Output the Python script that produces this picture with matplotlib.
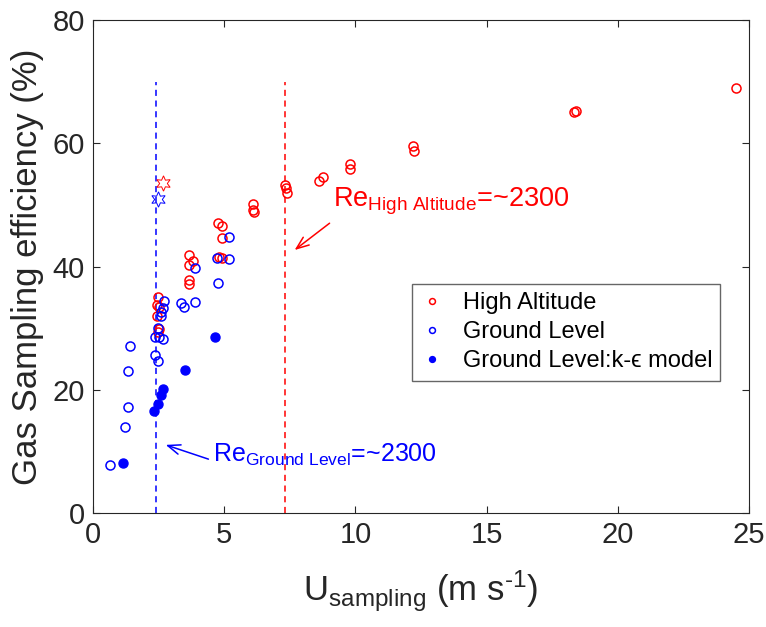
import numpy as np
import matplotlib
matplotlib.use("Agg")
import matplotlib.pyplot as plt

# === data ===
high_u = [24.5, 18.35, 18.4, 12.2, 12.25, 9.8, 9.8, 8.75, 8.6,
          7.3, 7.35, 7.4, 6.1, 6.1, 6.15, 4.77, 4.92, 4.9, 4.81, 4.93,
          3.66, 3.82, 3.66, 3.66, 3.66,
          2.48, 2.44, 2.52, 2.44, 2.52, 2.48]
high_eff = [68.9, 65.1, 65.3, 59.5, 58.7, 56.7, 55.9, 54.6, 53.8,
            53.3, 52.8, 52.0, 50.2, 49.1, 48.9, 47.1, 46.5, 44.6, 41.5, 41.4,
            41.8, 40.9, 40.2, 37.8, 37.2,
            35.1, 33.7, 33.4, 31.9, 29.8, 29.3]

ground_u = [0.65, 1.22, 1.33, 1.33, 1.41, 2.37, 2.48, 2.37, 2.52, 2.67,
            2.48, 2.6, 2.6, 2.67, 2.71, 3.36, 3.47, 3.89,
            4.77, 3.89, 4.73, 5.19, 5.19]
ground_eff = [7.8, 13.9, 17.2, 23.1, 27.1, 25.6, 24.7, 28.6, 28.6, 28.3,
              30.0, 32.0, 32.6, 33.2, 34.4, 34.0, 33.5, 34.3,
              37.4, 39.8, 41.4, 41.2, 44.8]

model_u = [1.15, 2.33, 2.48, 2.6, 2.67, 3.51, 4.66]
model_eff = [8.1, 16.6, 17.7, 19.2, 20.1, 23.2, 28.6]

star_u = [2.67, 2.48]
star_eff = [53.6, 51.0]
star_colors = ["red", "blue"]

re_ground_u = 2.4
re_high_u = 7.33
re_line_top = 70

# === plot ===
plt.rcParams["font.family"] = ["Liberation Sans", "DejaVu Sans"]
plt.rcParams["mathtext.fontset"] = "custom"
plt.rcParams["mathtext.rm"] = "Liberation Sans"
plt.rcParams["mathtext.it"] = "Liberation Sans:italic"
plt.rcParams["axes.unicode_minus"] = False

fig = plt.figure(figsize=(7.66, 6.27), dpi=100)
ax = fig.add_axes([0.1214, 0.1818, 0.8564, 0.7863])

ax.plot([re_ground_u, re_ground_u], [0, re_line_top], ls=(0, (4, 3)), color="blue", lw=1.1)
ax.plot([re_high_u, re_high_u], [0, re_line_top], ls=(0, (4, 3)), color="red", lw=1.1)

ax.plot(high_u, high_eff, "o", mfc="none", mec="red", ms=6.5, mew=1.1, label="High Altitude")
ax.plot(ground_u, ground_eff, "o", mfc="none", mec="blue", ms=6.5, mew=1.1, label="Ground Level")
ax.plot(model_u, model_eff, "o", mfc="blue", mec="blue", ms=6.5, label="Ground Level:k-ϵ model")

for u, e, c in zip(star_u, star_eff, star_colors):
    ax.plot(u, e, marker=(6, 1, 0), mfc="none", mec=c, ms=11, mew=0.7)

arrow = "->,head_length=0.9,head_width=0.35"
ax.text(9.15, 49.8, r"Re$_{\mathrm{High\ Altitude}}$=~2300", color="red",
        fontsize=19.5, va="baseline", ha="left")
ax.annotate("", xy=(7.6, 42.4), xytext=(9.1, 47.3),
            arrowprops=dict(arrowstyle=arrow, color="red", lw=1.1))

ax.text(4.57, 8.3, r"Re$_{\mathrm{Ground\ Level}}$=~2300", color="blue",
        fontsize=18, va="baseline", ha="left")
ax.annotate("", xy=(2.67, 11.2), xytext=(4.5, 8.6),
            arrowprops=dict(arrowstyle=arrow, color="blue", lw=1.1))

ax.set_xlim(0, 25)
ax.set_ylim(0, 80)
ax.set_xticks(np.arange(0, 26, 5))
ax.set_yticks(np.arange(0, 81, 20))
ax.tick_params(direction="in", top=True, right=True, length=5, width=0.8,
               labelsize=21, colors="0.15", pad=6)
for s in ax.spines.values():
    s.set_color("0.15")
    s.set_linewidth(0.8)

ax.set_xlabel("U$_{\\mathrm{sampling}}$ (m s$^{\\mathrm{\u2010 1}}$)", fontsize=25,
              color="0.15", labelpad=14)
ax.set_ylabel("Gas Sampling efficiency (%)", fontsize=25, color="0.15", labelpad=6)

leg = ax.legend(loc="upper left", bbox_to_anchor=(0.486, 0.4645), fontsize=17,
                frameon=True, fancybox=False, markerscale=0.65, handlelength=1.0,
                handletextpad=0.8, borderpad=0.35, borderaxespad=0,
                labelspacing=0.3)
leg.get_frame().set_edgecolor("0.25")
leg.get_frame().set_linewidth(1.0)

fig.savefig("out.png", dpi=100)
